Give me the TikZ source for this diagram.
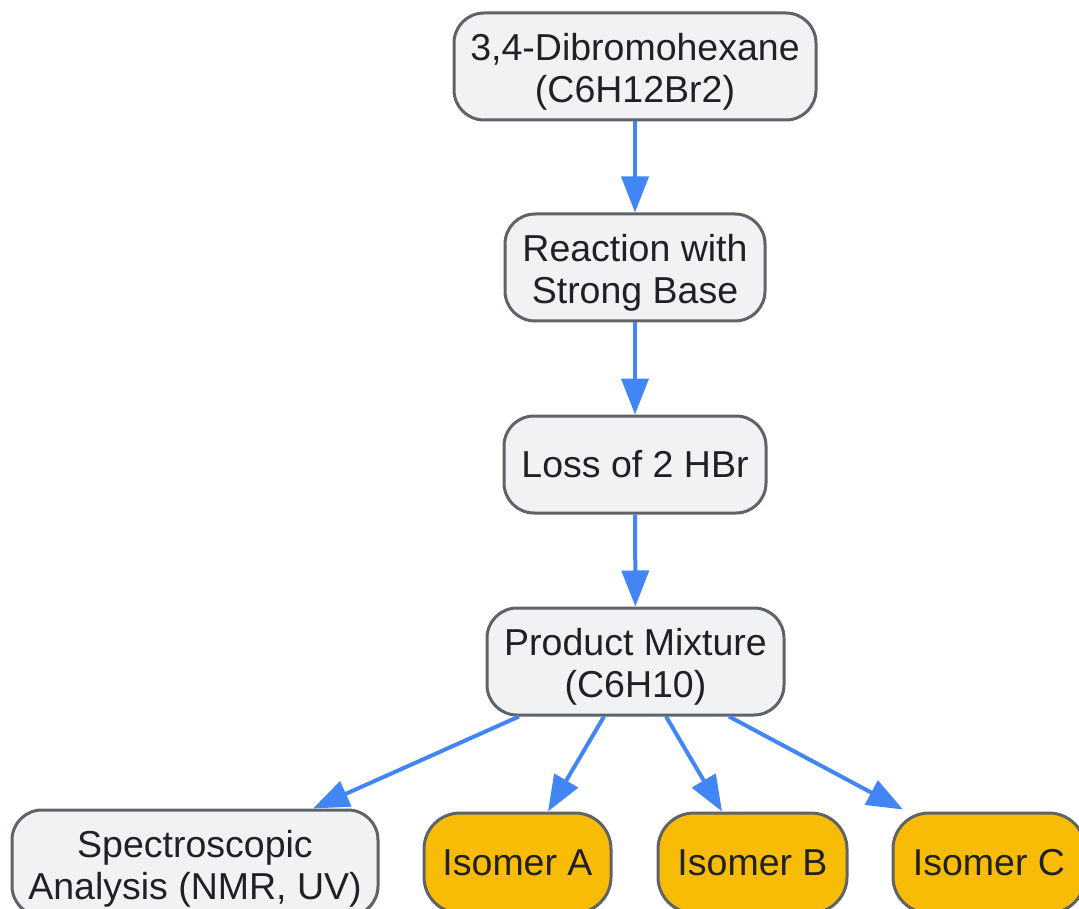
\documentclass[tikz,border=0pt]{standalone}
\usepackage{fontspec}
\setmainfont{Liberation Sans}
\usetikzlibrary{arrows.meta}
\definecolor{nodefill}{HTML}{F1F2F4}
\definecolor{nodeline}{HTML}{5F6368}
\definecolor{isofill}{HTML}{F9BC06}
\definecolor{txt}{HTML}{202124}
\definecolor{arrowblue}{HTML}{4285F4}
\newcommand\tstrut{\rule{0pt}{38pt}}
\begin{document}
\begin{tikzpicture}[x=1pt,y=-1pt,
 box/.style={draw=nodeline, line width=3pt, fill=nodefill, rounded corners=30pt, align=center, inner sep=0pt, text=txt, font=\fontsize{37.5}{42}\selectfont},
 iso/.style={box, fill=isofill, rounded corners=36pt},
 arr/.style={draw=arrowblue, line width=4pt, -{Triangle[length=36pt,width=27pt]}}]
\useasboundingbox (0,0) rectangle (1079,909);
\node[box, minimum width=362pt, minimum height=107pt] (top) at (635,66.5) {\tstrut3,4-Dibromohexane\\(C6H12Br2)};
\node[box, minimum width=260pt, minimum height=107pt] (react) at (635,267.5) {\tstrut Reaction with\\Strong Base};
\node[box, minimum width=262pt, minimum height=97pt] (loss) at (635,464.5) {Loss of 2 HBr};
\node[box, minimum width=297pt, minimum height=107pt] (prod) at (635.5,661.5) {\tstrut Product Mixture\\(C6H10)};
\node[box, minimum width=366pt, minimum height=106pt] (spec) at (195,863) {\tstrut Spectroscopic\\Analysis (NMR, UV)};
\node[iso, minimum width=187pt, minimum height=100pt] (isoA) at (517.5,863) {Isomer A};
\node[iso, minimum width=189pt, minimum height=100pt] (isoB) at (752.5,863) {Isomer B};
\node[iso, minimum width=192pt, minimum height=100pt] (isoC) at (989,863) {Isomer C};
\draw[arr] (top) -- (react);
\draw[arr] (react) -- (loss);
\draw[arr] (loss) -- (prod);
\draw[arr] ([xshift=-116.5pt]prod.south) -- ([xshift=118pt]spec.north);
\draw[arr] ([xshift=-31.5pt]prod.south) -- ([xshift=30.5pt]isoA.north);
\draw[arr] ([xshift=30.5pt]prod.south) -- ([xshift=-30.5pt]isoB.north);
\draw[arr] ([xshift=93.5pt]prod.south) -- ([xshift=-86pt,yshift=2pt]isoC.north);
\end{tikzpicture}
\end{document}
